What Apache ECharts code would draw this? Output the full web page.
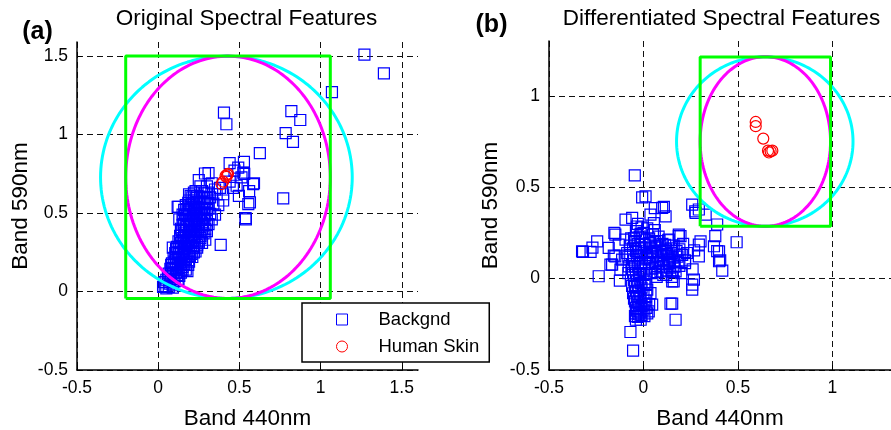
<!DOCTYPE html>
<html>
<head>
<meta charset="utf-8">
<script src="https://cdn.jsdelivr.net/npm/echarts@6/dist/echarts.min.js"></script>
<style>
html, body { margin: 0; padding: 0; background: #fff; }
#chart { width: 891px; height: 430px; }
</style>
</head>
<body>
<div id="chart"></div>
<script>
const FONT = '"Liberation Sans", Arial, Helvetica, sans-serif';

// Tick positions for each panel
const ticksAx = [-0.5, 0, 0.5, 1, 1.5];
const ticksAy = [-0.5, 0, 0.5, 1, 1.5];
const ticksBx = [-0.5, 0, 0.5, 1];
const ticksBy = [-0.5, 0, 0.5, 1];

// Panel (a): original spectral features, [band 440nm, band 590nm]
const bgOriginal = [
  [0.03,0.03],[0.05,0.02],[0.04,0.06],[0.07,0.05],[0.09,0.04],[0.06,0.09],[0.10,0.08],[0.12,0.07],
  [0.08,0.11],[0.11,0.12],[0.13,0.10],
  [0.09,0.15],[0.12,0.16],[0.15,0.14],[0.10,0.19],[0.14,0.18],[0.17,0.17],[0.11,0.22],[0.13,0.21],
  [0.16,0.20],[0.19,0.19],[0.08,0.17],[0.18,0.13],
  [0.12,0.25],[0.15,0.24],[0.18,0.23],[0.21,0.22],[0.13,0.28],[0.16,0.27],[0.19,0.26],[0.22,0.25],
  [0.14,0.31],[0.17,0.30],[0.20,0.29],[0.24,0.28],[0.11,0.27],[0.09,0.28],
  [0.15,0.34],[0.18,0.33],[0.21,0.32],[0.25,0.31],[0.16,0.37],[0.19,0.36],[0.22,0.35],[0.26,0.34],
  [0.14,0.40],[0.17,0.39],[0.20,0.38],[0.23,0.38],[0.28,0.37],[0.29,0.33],
  [0.16,0.43],[0.19,0.42],[0.22,0.41],[0.25,0.41],[0.29,0.40],[0.17,0.46],[0.20,0.45],[0.23,0.44],
  [0.27,0.44],[0.31,0.43],[0.15,0.49],[0.18,0.48],[0.21,0.48],[0.24,0.47],[0.28,0.47],[0.33,0.46],
  [0.16,0.52],[0.19,0.51],[0.22,0.51],[0.26,0.50],[0.30,0.50],[0.35,0.49],[0.17,0.55],[0.20,0.55],
  [0.23,0.54],[0.27,0.53],[0.31,0.53],[0.19,0.58],[0.22,0.58],[0.25,0.57],[0.29,0.56],[0.34,0.56],
  [0.12,0.54],[0.13,0.46],
  [0.20,0.61],[0.24,0.61],[0.28,0.60],[0.32,0.60],[0.36,0.62],[0.23,0.64],[0.27,0.64],[0.31,0.63],
  [0.35,0.65],[0.26,0.67],[0.30,0.67],[0.33,0.69],[0.25,0.71],[0.38,0.66],[0.19,0.62],[0.40,0.62],
  // denser core of the cluster
  [0.04,0.035],[0.065,0.03],[0.09,0.025],[0.05,0.075],[0.075,0.07],[0.10,0.065],[0.125,0.08],
  [0.065,0.115],[0.09,0.12],[0.115,0.105],[0.14,0.12],[0.075,0.145],[0.10,0.14],[0.125,0.15],
  [0.15,0.155],[0.17,0.14],[0.085,0.18],[0.11,0.175],[0.135,0.185],[0.16,0.175],[0.185,0.17],
  [0.095,0.215],[0.12,0.21],[0.145,0.22],[0.17,0.205],[0.195,0.225],[0.105,0.245],[0.13,0.24],
  [0.155,0.25],[0.18,0.245],[0.205,0.24],[0.23,0.255],[0.115,0.285],[0.14,0.29],[0.165,0.28],
  [0.19,0.29],[0.215,0.28],[0.24,0.295],[0.125,0.32],[0.15,0.325],[0.175,0.315],[0.20,0.32],
  [0.225,0.33],[0.25,0.32],[0.27,0.31],[0.135,0.355],[0.16,0.35],[0.185,0.36],[0.21,0.355],
  [0.235,0.365],[0.26,0.355],[0.145,0.39],[0.17,0.385],[0.195,0.395],[0.22,0.39],[0.245,0.385],
  [0.27,0.395],[0.30,0.385],[0.15,0.425],[0.175,0.42],[0.20,0.43],[0.225,0.425],[0.25,0.43],
  [0.275,0.42],[0.30,0.425],[0.155,0.455],[0.18,0.46],[0.205,0.455],[0.23,0.465],[0.255,0.455],
  [0.285,0.46],[0.165,0.49],[0.19,0.495],[0.215,0.485],[0.24,0.495],[0.265,0.49],[0.29,0.485],
  [0.32,0.495],[0.175,0.525],[0.20,0.53],[0.225,0.52],[0.25,0.53],[0.28,0.525],[0.30,0.52],
  [0.185,0.565],[0.21,0.56],[0.235,0.57],[0.26,0.565],[0.285,0.575],[0.31,0.565],[0.21,0.60],
  [0.235,0.595],[0.26,0.605],[0.30,0.595],[0.22,0.63],[0.28,0.625],
  // scattered points away from the cluster
  [1.27,1.51],[1.39,1.39],[1.07,1.27],[0.405,1.14],[0.42,1.066],[0.82,1.15],[0.875,1.093],
  [0.785,1.009],[0.83,0.954],[0.626,0.882],[0.528,0.826],[0.44,0.818],[0.77,0.593],[0.59,0.69],
  [0.56,0.64],[0.555,0.557],[0.53,0.75],[0.47,0.77],[0.31,0.755],[0.125,0.54],[0.385,0.297],
  [0.54,0.46],[0.524,0.758],[0.585,0.685],[0.538,0.468],[0.497,0.61],[0.483,0.674],[0.44,0.70],
  [0.46,0.66],[0.40,0.58],[0.37,0.55],[0.513,0.727],[0.565,0.568],[0.493,0.79],[0.288,0.752]
];
const skinOriginal = [
  [0.39,0.685],[0.40,0.70],[0.415,0.737],[0.425,0.745],[0.43,0.75],[0.42,0.73]
];

// Panel (b): differentiated spectral features
const bgDiff = [
  [-0.046,0.565],[-0.007,0.445],[0.06,0.386],[0.108,0.392],[0.117,0.341],[0.099,0.387],[0.011,0.45],
  [0.258,0.405],[0.274,0.368],[0.293,0.378],[0.276,0.359],[0.329,0.35],[0.39,0.296],[0.38,0.232],
  [0.493,0.199],[0.293,0.186],[0.373,0.177],[0.40,0.149],[0.406,0.10],[0.417,0.044],[0.293,0.122],
  [0.196,0.232],[0.187,0.232],[0.267,-0.005],[0.258,-0.033],[0.152,-0.015],[0.39,0.15],[0.40,0.095],
  [0.302,0.204],[0.268,0.155],[0.26,0.05],
  [-0.245,0.204],[-0.32,0.146],[-0.28,0.146],[-0.27,0.17],[-0.325,0.149],[-0.237,0.013],
  [-0.125,-0.011],[-0.154,0.25],[-0.149,0.241],[-0.157,0.126],[-0.166,0.077],[-0.175,0.077],
  [0.152,-0.137],[0.143,-0.137],[0.17,-0.225],[-0.069,-0.292],[-0.055,-0.394],
  [-0.095,0.323],[-0.06,0.332],[0.037,0.35],[0.055,0.304],[0.134,0.213],[0.187,0.241],[0.195,0.131],
  [0.22,0.085],[0.258,-0.06],[0.16,-0.015],[0.037,-0.079],[0.046,-0.142],[0.028,-0.179],
  [-0.184,0.168],[-0.149,0.122],[-0.131,0.186],[-0.095,0.213],[-0.086,0.14],[-0.113,0.104],
  [-0.122,0.049],[-0.078,0.067],
  // narrow vertical streak near x = 0
  [-0.03,0.30],[-0.01,0.28],[-0.04,0.26],[0.00,0.25],[-0.02,0.23],[-0.05,0.22],[0.01,0.21],
  [-0.03,0.19],[-0.01,0.17],[-0.04,0.15],[0.00,0.14],[-0.02,0.12],[-0.05,0.10],[0.01,0.09],
  [-0.03,0.07],[-0.01,0.05],[-0.04,0.03],[0.00,0.02],[-0.02,0.00],[-0.05,-0.01],[0.01,-0.02],
  [-0.03,-0.04],[-0.01,-0.05],[-0.04,-0.07],[0.00,-0.08],[-0.02,-0.10],[-0.05,-0.11],[0.01,-0.12],
  [-0.03,-0.13],[-0.01,-0.15],[-0.04,-0.16],[0.00,-0.17],[-0.02,-0.18],[-0.04,-0.19],[-0.01,-0.20],
  [-0.03,-0.21],[0.02,-0.19],[0.03,-0.14],[0.02,-0.06],[-0.06,0.05],[-0.06,-0.04],
  [-0.035,0.285],[-0.015,0.245],[-0.045,0.205],[-0.025,0.165],[0.005,0.185],[-0.035,0.125],
  [-0.015,0.085],[-0.045,0.065],[-0.025,0.025],[0.005,0.045],[-0.035,-0.015],[-0.015,-0.025],
  [-0.045,-0.045],[-0.025,-0.065],[0.005,-0.035],[-0.035,-0.095],[-0.015,-0.105],[-0.045,-0.125],
  [-0.025,-0.145],[0.005,-0.135],[-0.035,-0.175],[-0.015,-0.185],[-0.045,-0.205],[-0.025,-0.195],
  [0.005,-0.205],[-0.04,-0.225],[-0.015,-0.225],[0.015,-0.16],[0.015,-0.095],[0.015,-0.03],
  [0.015,0.03],[0.015,0.115],[0.015,0.17],[-0.055,0.165],[-0.055,0.03],[-0.055,-0.08],
  // broad patch to the right of the streak
  [0.03,0.22],[0.06,0.20],[0.09,0.18],[0.12,0.16],[0.15,0.14],[0.18,0.12],[0.04,0.17],[0.07,0.15],
  [0.10,0.13],[0.13,0.11],[0.16,0.09],[0.19,0.07],[0.05,0.12],[0.08,0.10],[0.11,0.08],[0.14,0.06],
  [0.17,0.04],[0.20,0.03],[0.03,0.08],[0.06,0.06],[0.09,0.04],[0.12,0.02],[0.15,0.01],[0.04,0.03],
  [0.07,0.01],[0.10,0.19],[0.13,0.21],[0.16,0.18],[0.19,0.16],[0.22,0.10],[-0.07,0.18],[-0.08,0.12],
  [-0.06,0.08],[0.05,0.24],[0.08,0.23],[0.21,0.19],[0.23,0.14],[0.02,0.13],[0.11,0.15],[0.14,0.10],
  [0.035,0.195],[0.065,0.175],[0.095,0.155],[0.125,0.135],[0.155,0.115],[0.185,0.095],
  [0.045,0.145],[0.075,0.125],[0.105,0.105],[0.135,0.085],[0.165,0.065],[0.035,0.105],
  [0.065,0.085],[0.095,0.065],[0.125,0.045],[0.155,0.035],[0.045,0.055],[0.075,0.035],
  [0.105,0.02],[0.06,0.265],[0.02,0.275],[0.085,0.205],[0.115,0.185],[0.145,0.165],[0.175,0.15],
  [0.205,0.13],[-0.07,0.13],[-0.065,0.22],[-0.08,0.03]
];
const skinDiff = [
  [0.594,0.857],[0.594,0.834],[0.634,0.766],[0.659,0.70],[0.673,0.697],[0.682,0.70],[0.664,0.69]
];

// Decision regions: box [xmin, xmax, ymin, ymax], ellipses [cx, cy, rx, ry]
const boxA = [-0.2, 1.06, -0.045, 1.5];
const ellipseA = [0.43, 0.728, 0.63, 0.772];
const circleA = [0.42, 0.728, 0.775, 0.772];
const boxB = [0.30, 0.99, 0.286, 1.213];
const ellipseB = [0.645, 0.75, 0.345, 0.4635];
const circleB = [0.642, 0.75, 0.467, 0.4635];

function outline([cx, cy, rx, ry]) {
  const pts = [];
  for (let d = 0; d <= 360; d += 2) {
    const t = d * Math.PI / 180;
    pts.push([cx + rx * Math.cos(t), cy + ry * Math.sin(t)]);
  }
  return pts;
}
function boxPath([x0, x1, y0, y1]) {
  return [[x0, y0], [x1, y0], [x1, y1], [x0, y1], [x0, y0]];
}

function axis(gridIndex, min, max, ticks, name, nameGap, isY) {
  return {
    type: 'value', gridIndex, min, max, interval: 0.5,
    name, nameLocation: 'middle', nameGap,
    nameTextStyle: { fontFamily: FONT, fontSize: 22.5, color: '#000' },
    axisLine: { show: true, onZero: false, lineStyle: { color: '#000', width: 1.5 } },
    axisTick: { show: true, inside: true, length: 5, customValues: ticks,
                lineStyle: { color: '#000', width: 1 } },
    axisLabel: { customValues: ticks, fontFamily: FONT, fontSize: 17.5, color: '#000',
                 margin: isY ? 9 : 9 },
    splitLine: { show: true, lineStyle: { color: '#111', width: 1, type: [6, 4] } }
  };
}

function scatter(name, data, idx, symbol, color) {
  return {
    type: 'scatter', name, data, xAxisIndex: idx, yAxisIndex: idx,
    symbol, symbolSize: 11, silent: true,
    itemStyle: { color: 'transparent', borderColor: color, borderWidth: 1.2, opacity: 1 },
    z: 2
  };
}
function curve(data, idx, color, width) {
  return {
    type: 'line', data, xAxisIndex: idx, yAxisIndex: idx,
    showSymbol: false, symbol: 'none', silent: true, smooth: false,
    lineStyle: { color, width }, z: 3
  };
}

const titleStyle = { fontFamily: FONT, fontSize: 22.5, fontWeight: 'normal', color: '#000' };
const tagStyle = { fontFamily: FONT, fontSize: 25, fontWeight: 'bold', color: '#000' };

const option = {
  animation: false,
  backgroundColor: '#fff',
  title: [
    { text: 'Original Spectral Features', left: 246.5, top: 19, padding: 0,
      textAlign: 'center', textVerticalAlign: 'middle', textStyle: titleStyle },
    { text: 'Differentiated Spectral Features', left: 721.5, top: 19, padding: 0,
      textAlign: 'center', textVerticalAlign: 'middle', textStyle: titleStyle },
    { text: '(a)', left: 37.5, top: 32, padding: 0,
      textAlign: 'center', textVerticalAlign: 'middle', textStyle: tagStyle },
    { text: '(b)', left: 491.5, top: 25, padding: 0,
      textAlign: 'center', textVerticalAlign: 'middle', textStyle: tagStyle }
  ],
  grid: [
    { left: 77, top: 42, width: 341, height: 328, outerBoundsMode: 'none' },
    { left: 549, top: 41, right: 0, height: 329, outerBoundsMode: 'none' }
  ],
  xAxis: [
    axis(0, -0.5, 1.6, ticksAx, 'Band 440nm', 37, false),
    axis(1, -0.5, 1.31, ticksBx, 'Band 440nm', 37, false)
  ],
  yAxis: [
    axis(0, -0.5, 1.59, ticksAy, 'Band 590nm', 45, true),
    axis(1, -0.5, 1.3, ticksBy, 'Band 590nm', 47, true)
  ],
  legend: {
    orient: 'vertical', left: 302, top: 303,
    padding: [7, 10, 6, 34],
    backgroundColor: '#fff', borderColor: '#000', borderWidth: 1.5, borderRadius: 0,
    itemWidth: 11, itemHeight: 11, itemGap: 8,
    selectedMode: false,
    formatter: '{t|{name}}',
    textStyle: {
      rich: { t: { fontFamily: FONT, fontSize: 18.5, color: '#000', padding: [0, 0, 0, 26], lineHeight: 20 } }
    },
    data: [
      { name: 'Backgnd', icon: 'rect',
        itemStyle: { color: 'transparent', borderColor: '#0000ff', borderWidth: 1 } },
      { name: 'Human Skin', icon: 'circle',
        itemStyle: { color: 'transparent', borderColor: '#ff0000', borderWidth: 1 } }
    ]
  },
  series: [
    scatter('Backgnd', bgOriginal, 0, 'rect', '#0000ff'),
    scatter('Human Skin', skinOriginal, 0, 'circle', '#ff0000'),
    curve(outline(circleA), 0, '#00ffff', 3),
    curve(outline(ellipseA), 0, '#ff00ff', 3),
    curve(boxPath(boxA), 0, '#00ff00', 3),
    scatter('Backgnd', bgDiff, 1, 'rect', '#0000ff'),
    scatter('Human Skin', skinDiff, 1, 'circle', '#ff0000'),
    curve(outline(circleB), 1, '#00ffff', 3),
    curve(outline(ellipseB), 1, '#ff00ff', 3),
    curve(boxPath(boxB), 1, '#00ff00', 3)
  ]
};

const chart = echarts.init(document.getElementById('chart'), null, { renderer: 'canvas' });
chart.setOption(option);
</script>
</body>
</html>
